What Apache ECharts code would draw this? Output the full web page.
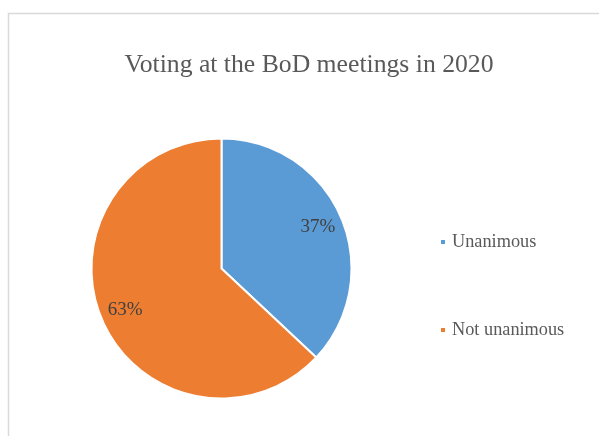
<!DOCTYPE html>
<html><head><meta charset="utf-8">
<script src="https://cdn.jsdelivr.net/npm/echarts@6/dist/echarts.min.js"></script>
<style>html,body{margin:0;padding:0;background:#fff}#c{width:599px;height:436px}</style>
</head><body><div id="c"></div>
<script>
const titleText = "Voting at the BoD meetings in 2020";
const categories = ["Unanimous", "Not unanimous"];
const values = [37, 63];
const colors = ["#5B9BD5", "#ED7D31"];

const data = categories.map((c, i) => ({ name: c, value: values[i], itemStyle: { color: colors[i] } }));
const serif = "'Liberation Serif', 'Times New Roman', serif";
const chart = echarts.init(document.getElementById('c'), null, { renderer: 'canvas' });
chart.setOption({
  animation: false,
  graphic: [{ type: 'rect', shape: { x: 8.5, y: 13.5, width: 700, height: 600 }, style: { fill: 'none', stroke: '#d9d9d9', lineWidth: 1.5 }, silent: true, z: -10 }],
  title: { text: titleText, left: 304, textAlign: 'center', top: 47,
    textStyle: { fontFamily: serif, fontSize: 25.7, fontWeight: 'normal', color: '#595959' } },
  legend: { orient: 'vertical', left: 434, top: 228, itemWidth: 6, itemHeight: 6, itemGap: 70, icon: 'rect',
    data: categories,
    textStyle: { fontFamily: serif, fontSize: 18.3, color: '#595959', padding: [0, 0, 0, 1] } },
  series: [
    { type: 'pie', center: [221.5, 268.5], radius: [0, 130], startAngle: 90, clockwise: true,
      data: data, label: { show: false }, labelLine: { show: false },
      itemStyle: { borderColor: '#fff', borderWidth: 2 }, emphasis: { disabled: true } },
    { type: 'pie', center: [221.5, 268.5], radius: [74, 130], startAngle: 90, clockwise: true, silent: true,
      data: data.map(d => ({ name: d.name, value: d.value })),
      itemStyle: { color: 'rgba(0,0,0,0)' }, labelLine: { show: false },
      label: { show: true, position: 'inside', formatter: p => p.value + '%',
        fontFamily: serif, fontSize: 19, color: '#404040' }, emphasis: { disabled: true } }
  ]
});
</script></body></html>
